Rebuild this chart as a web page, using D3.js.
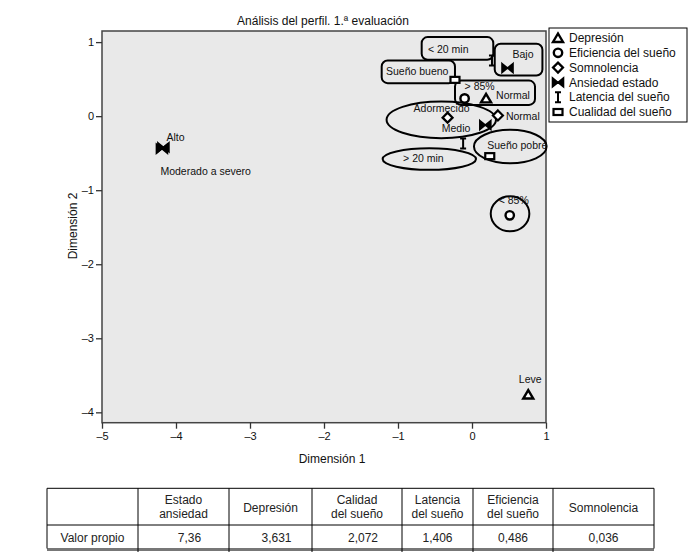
<!DOCTYPE html>
<html>
<head>
<meta charset="utf-8">
<script src="https://cdn.jsdelivr.net/npm/d3@7"></script>
<style>
  body { margin: 0; background: #fff; }
  text { font-family: "Liberation Sans", Arial, sans-serif; fill: #111; }
</style>
</head>
<body>
<div id="chart"></div>
<script>
// variables and their category points (dimension 1, dimension 2)
var variables = ["Depresión", "Eficiencia del sueño", "Somnolencia", "Ansiedad estado", "Latencia del sueño", "Cualidad del sueño"];
var pointVar = [0, 0, 1, 1, 2, 2, 3, 3, 3, 3, 4, 4, 5, 5];
var pointCat = ["Normal", "Leve", "> 85%", "< 85%", "Adormecido", "Normal", "Bajo", "Medio", "Alto", "Moderado a severo", "< 20 min", "> 20 min", "Sueño bueno", "Sueño pobre"];
var dim1 = [0.19, 0.76, -0.10, 0.51, -0.33, 0.35, 0.48, 0.18, -4.17, -4.19, 0.27, -0.12, -0.23, 0.24];
var dim2 = [0.24, -3.76, 0.24, -1.34, -0.02, 0.01, 0.65, -0.12, -0.42, -0.44, 0.75, -0.37, 0.49, -0.54];

var xTicks = [-5, -4, -3, -2, -1, 0, 1];
var yTicks = [1, 0, -1, -2, -3, -4];

// eigenvalue table
var tableHeaders = [["Estado", "ansiedad"], ["Depresión"], ["Calidad", "del sueño"], ["Latencia", "del sueño"], ["Eficiencia", "del sueño"], ["Somnolencia"]];
var eigenValues = ["7,36", "3,631", "2,072", "1,406", "0,486", "0,036"];
var rowLabel = "Valor propio";

// label placement relative to each point (px): dx, dy, anchor
var labelOffsets = [
  [10, 0.5, "start"], [2, -12, "middle"], [0, -8.5, "start"], [-11, -11, "start"],
  [-34, -5.5, "start"], [8, 5, "start"], [5, -10, "start"], [-43.6, 6.5, "start"],
  [3, -6, "start"], [-1.5, 26, "start"], [-64, -8, "start"], [-60, 18, "start"],
  [-69, -5, "start"], [-2.5, -7, "start"]
];
// highlight shapes drawn around labels, relative to a point index
var boxes = [
  { p: 10, x: -70.3, y: -23.5, w: 71.6, h: 22.7 },
  { p: 6, x: -12.8, y: -24.2, w: 47.7, h: 31.7 },
  { p: 12, x: -73.3, y: -19.3, w: 73.3, h: 22.6 },
  { p: 2, x: -9.6, y: -17.8, w: 80, h: 24.3 }
];
var ellipses = [
  { p: 4, cx: -6.3, cy: 2.2, rx: 54.7, ry: 18.3 },
  { p: 13, cx: 20.5, cy: -9.6, rx: 36.3, ry: 16.7 },
  { p: 11, cx: -33.8, cy: 15.5, rx: 46.7, ry: 10.8 },
  { p: 3, cx: 0.3, cy: -1.5, rx: 19.3, ry: 17.5 }
];

var w = 700, h = 557;
var svg = d3.select("#chart").append("svg").attr("width", w).attr("height", h);

var x = d3.scaleLinear().domain([-5, 1]).range([102, 546]);
var y = d3.scaleLinear().domain([-4.14, 1.15]).range([422.7, 31]);

var minus = function (d) { return d < 0 ? "\u2013" + Math.abs(d) : d; };

// panel
svg.append("rect")
  .attr("x", x(-5)).attr("y", y(1.15))
  .attr("width", x(1) - x(-5)).attr("height", y(-4.14) - y(1.15))
  .style("fill", "#e9e9e9").style("stroke", "#444").style("stroke-width", 1.5);

var xAxis = svg.append("g").attr("transform", "translate(0," + y(-4.14) + ")")
  .call(d3.axisBottom(x).tickValues(xTicks).tickSize(6).tickFormat(minus));
var yAxis = svg.append("g").attr("transform", "translate(" + x(-5) + ",0)")
  .call(d3.axisLeft(y).tickValues(yTicks).tickSize(6).tickFormat(minus));
[xAxis, yAxis].forEach(function (g) {
  g.select(".domain").remove();
  g.selectAll(".tick line").style("stroke", "#333").style("stroke-width", 1.3);
  g.selectAll(".tick text").style("font-size", "11px").style("font-family", "Liberation Sans, Arial, sans-serif").style("fill", "#111");
});
xAxis.selectAll(".tick text").attr("y", 10);
yAxis.selectAll(".tick text").attr("x", -8);

svg.append("text").attr("x", 323).attr("y", 25).attr("text-anchor", "middle")
  .style("font-size", "12px").text("Análisis del perfil. 1.ª evaluación");
svg.append("text").attr("x", 332).attr("y", 463).attr("text-anchor", "middle")
  .style("font-size", "12px").text("Dimensión 1");
svg.append("text").attr("transform", "translate(77,226) rotate(-90)").attr("text-anchor", "middle")
  .style("font-size", "12px").text("Dimensión 2");

// marker shapes per variable
function marker(g, v) {
  if (v === 0) {
    g.append("path").attr("d", "M0,-4.5L5,4L-5,4Z").style("fill", "#fff").style("stroke", "#000").style("stroke-width", 2.4).style("stroke-linejoin", "miter");
  } else if (v === 1) {
    g.append("circle").attr("r", 4.2).style("fill", "#fff").style("stroke", "#000").style("stroke-width", 2.4);
  } else if (v === 2) {
    g.append("path").attr("d", "M0,-5L5,0L0,5L-5,0Z").style("fill", "#fff").style("stroke", "#000").style("stroke-width", 2.2);
  } else if (v === 3) {
    g.append("path").attr("d", "M-5.5,-4.5L0,0L-5.5,4.5ZM5.5,-4.5L0,0L5.5,4.5Z").style("fill", "#000").style("stroke", "#000").style("stroke-width", 1.6);
  } else if (v === 4) {
    g.append("path").attr("d", "M-3,-5H3M0,-5V5M-3,5H3").style("fill", "none").style("stroke", "#000").style("stroke-width", 2);
  } else {
    g.append("rect").attr("x", -4.5).attr("y", -3).attr("width", 9).attr("height", 6).style("fill", "#fff").style("stroke", "#000").style("stroke-width", 2.2);
  }
}

var px = function (i) { return x(dim1[i]); };
var py = function (i) { return y(dim2[i]); };

// highlight shapes
svg.selectAll("rect.box").data(boxes).enter().append("rect").attr("class", "box")
  .attr("x", function (d) { return px(d.p) + d.x; })
  .attr("y", function (d) { return py(d.p) + d.y; })
  .attr("width", function (d) { return d.w; })
  .attr("height", function (d) { return d.h; })
  .attr("rx", 6)
  .style("fill", "none").style("stroke", "#000").style("stroke-width", 2);
svg.selectAll("ellipse.hl").data(ellipses).enter().append("ellipse").attr("class", "hl")
  .attr("cx", function (d) { return px(d.p) + d.cx; })
  .attr("cy", function (d) { return py(d.p) + d.cy; })
  .attr("rx", function (d) { return d.rx; })
  .attr("ry", function (d) { return d.ry; })
  .style("fill", "none").style("stroke", "#000").style("stroke-width", 2);

// points
dim1.forEach(function (d, i) {
  var g = svg.append("g").attr("transform", "translate(" + px(i) + "," + py(i) + ")");
  marker(g, pointVar[i]);
});

// labels
svg.selectAll("text.lab").data(pointCat).enter().append("text").attr("class", "lab")
  .attr("x", function (d, i) { return px(i) + labelOffsets[i][0]; })
  .attr("y", function (d, i) { return py(i) + labelOffsets[i][1]; })
  .attr("text-anchor", function (d, i) { return labelOffsets[i][2]; })
  .style("font-size", "10.5px")
  .text(function (d) { return d; });

// legend
var legend = svg.append("g");
legend.append("rect").attr("x", 549).attr("y", 28).attr("width", 138).attr("height", 94)
  .style("fill", "#fff").style("stroke", "#000").style("stroke-width", 1);
variables.forEach(function (v, i) {
  var ly = 38 + i * 14.8;
  var g = legend.append("g").attr("transform", "translate(558," + ly + ")");
  marker(g, i);
  legend.append("text").attr("x", 569).attr("y", ly + 4.2).style("font-size", "12px").text(v);
});

// table
var cols = [47, 138, 229, 312, 402, 473, 553, 654];
var tTop = 488.3, tMid = 525, tBot = 548.5;
var tbl = svg.append("g");
tbl.append("line").attr("x1", cols[0]).attr("x2", cols[7]).attr("y1", tTop).attr("y2", tTop).style("stroke", "#000");
tbl.append("line").attr("x1", cols[0]).attr("x2", cols[7]).attr("y1", tMid).attr("y2", tMid).style("stroke", "#000");
tbl.append("line").attr("x1", cols[0]).attr("x2", cols[7]).attr("y1", tBot + 1).attr("y2", tBot + 1).style("stroke", "#777").style("stroke-width", 3);
cols.forEach(function (c, i) {
  tbl.append("line").attr("x1", c).attr("x2", c).attr("y1", tTop)
    .attr("y2", (i === 0 || i === 7) ? tBot : 552).style("stroke", "#000");
});
tableHeaders.forEach(function (lines, i) {
  var cx = (cols[i + 1] + cols[i + 2]) / 2;
  lines.forEach(function (t, j) {
    var ty = lines.length === 1 ? 511.5 : 503.5 + j * 14.5;
    tbl.append("text").attr("x", cx).attr("y", ty).attr("text-anchor", "middle")
      .style("font-size", "12px").style("fill", "#222").text(t);
  });
});
tbl.append("text").attr("x", (cols[0] + cols[1]) / 2).attr("y", 541.5).attr("text-anchor", "middle")
  .style("font-size", "12px").style("fill", "#222").text(rowLabel);
eigenValues.forEach(function (v, i) {
  tbl.append("text").attr("x", (cols[i + 1] + cols[i + 2]) / 2 + (i < 3 ? 6 : 0)).attr("y", 541.5)
    .attr("text-anchor", "middle").style("font-size", "12px").style("fill", "#222").text(v);
});
</script>
</body>
</html>
